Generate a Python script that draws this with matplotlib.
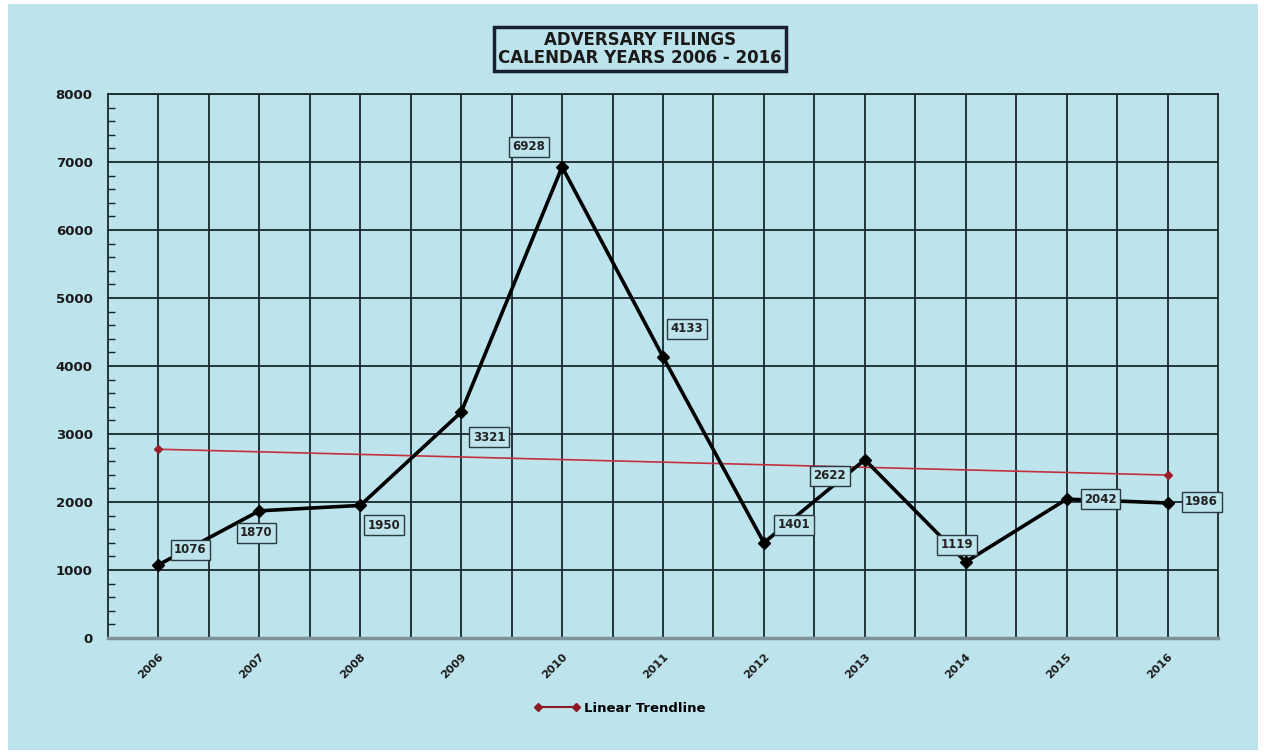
import matplotlib
matplotlib.use('Agg')
import matplotlib.pyplot as plt
from matplotlib.lines import Line2D
from matplotlib.patches import Rectangle
import numpy as np

years = [2006, 2007, 2008, 2009, 2010, 2011, 2012, 2013, 2014, 2015, 2016]
filings = [1076, 1870, 1950, 3321, 6928, 4133, 1401, 2622, 1119, 2042, 1986]
trend_years = [2006, 2016]
trend_values = [2776, 2396]
y_ticks = [0, 1000, 2000, 3000, 4000, 5000, 6000, 7000, 8000]

# label box offsets in pixels (dx, dy) from each point
label_offsets = [(32, 15), (-3, -22), (24, -20), (28, -25), (-33, 20), (24, 28),
                 (30, 18), (-35, -16), (-9, 17), (34, 0), (34, 1)]

BG = "#bde3ec"
GRID = "#18262d"
FONT = "DejaVu Sans"

fig = plt.figure(figsize=(12.64, 7.54), dpi=100)
fig.patch.set_facecolor("white")
fig.patches.append(Rectangle((8 / 1264, 4 / 754), 1250 / 1264, 746 / 754,
                             transform=fig.transFigure, facecolor=BG,
                             edgecolor="none", zorder=-10))

ax = fig.add_axes([108 / 1264, 1 - 638 / 754, 1110 / 1264, 544 / 754])
ax.set_facecolor(BG)

ax.set_xlim(years[0] - 0.5, years[-1] + 0.5)
ax.set_ylim(y_ticks[0], y_ticks[-1])

ax.set_xticks(years)
ax.set_xticks(np.array(years[:-1]) + 0.5, minor=True)
ax.set_yticks(y_ticks)
ax.set_yticks(np.arange(0, 8001, 200), minor=True)
ax.grid(which="major", color=GRID, linewidth=1.3)
ax.grid(which="minor", axis="x", color=GRID, linewidth=1.3)
ax.set_axisbelow(True)

ax.set_xticklabels([str(y) for y in years], rotation=45, ha="right",
                   rotation_mode="anchor", fontsize=8, fontweight="bold",
                   family=FONT, color="#1a1a1a")
ax.set_yticklabels([str(v) for v in y_ticks], fontsize=9.5, fontweight="bold",
                   family=FONT, color="#1a1a1a")
ax.tick_params(axis="x", which="both", length=0, pad=10)
ax.tick_params(axis="y", which="major", length=0, pad=11)
ax.tick_params(axis="y", which="minor", direction="in", length=5,
               width=1, color=GRID)

for side in ["left", "top", "right"]:
    ax.spines[side].set_color(GRID)
    ax.spines[side].set_linewidth(1.3)
ax.spines["bottom"].set_color("#7d9299")
ax.spines["bottom"].set_linewidth(2.5)

ax.plot(trend_years, trend_values, color="#c0303f", linewidth=1.2,
        marker="D", markersize=4, markerfacecolor="#9a1f2a",
        markeredgecolor="#9a1f2a", zorder=3)

ax.plot(years, filings, color="black", linewidth=2.6, marker="D",
        markersize=6, markerfacecolor="black", zorder=4)

for x, v, (dx, dy) in zip(years, filings, label_offsets):
    ax.annotate(str(v), (x, v), xytext=(dx, dy), textcoords="offset pixels",
                ha="center", va="center", fontsize=8.5, fontweight="bold",
                family=FONT, color="#222222", zorder=5,
                bbox=dict(boxstyle="square,pad=0.3", facecolor=BG,
                          edgecolor="#2a3a40", linewidth=1.0))

fig.text(640 / 1264, 1 - 49 / 754,
         "ADVERSARY FILINGS\nCALENDAR YEARS 2006 - 2016",
         ha="center", va="center", fontsize=12, fontweight="bold",
         family=FONT, color="#1a1a1a", linespacing=1.0,
         bbox=dict(boxstyle="square,pad=0.25", facecolor=BG,
                   edgecolor="#1a1f33", linewidth=2.5))

handle = Line2D([], [], color="#8b1a24", linewidth=1.5, marker="D",
                markersize=4)
leg = fig.legend([handle], ["Linear Trendline"], loc="center",
                 bbox_to_anchor=(620 / 1264, 1 - 708 / 754), frameon=False,
                 prop={"family": FONT, "weight": "bold", "size": 9.5},
                 handlelength=3.5, handletextpad=0.3, numpoints=2)

fig.savefig("out.png", dpi=100, facecolor=fig.get_facecolor())
